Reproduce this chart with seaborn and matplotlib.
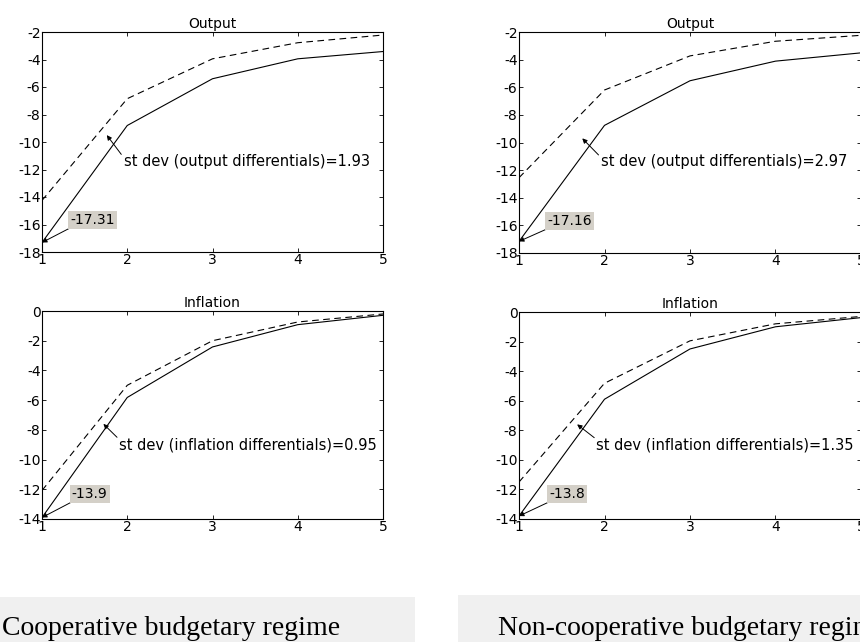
import matplotlib
matplotlib.use("Agg")
import matplotlib.pyplot as plt
import seaborn as sns
import pandas as pd
from matplotlib.patches import Rectangle

periods = [1, 2, 3, 4, 5]

# Cooperative regime
coop_output_solid = [-17.31, -8.8, -5.4, -3.95, -3.42]
coop_output_dashed = [-14.25, -6.85, -3.95, -2.78, -2.22]
coop_infl_solid = [-13.9, -5.82, -2.42, -0.92, -0.29]
coop_infl_dashed = [-12.08, -5.0, -2.0, -0.74, -0.2]

# Non-cooperative regime
nonc_output_solid = [-17.16, -8.76, -5.53, -4.11, -3.51]
nonc_output_dashed = [-12.55, -6.2, -3.73, -2.67, -2.24]
nonc_infl_solid = [-13.8, -5.9, -2.5, -1.0, -0.38]
nonc_infl_dashed = [-11.5, -4.82, -1.95, -0.8, -0.3]

titles = ["Output", "Inflation"]
output_yticks = [-18, -16, -14, -12, -10, -8, -6, -4, -2]
infl_yticks = [-14, -12, -10, -8, -6, -4, -2, 0]
stdev_texts = [
    ["st dev (output differentials)=1.93", "st dev (inflation differentials)=0.95"],
    ["st dev (output differentials)=2.97", "st dev (inflation differentials)=1.35"],
]
value_labels = [["-17.31", "-13.9"], ["-17.16", "-13.8"]]
regime_labels = ["Cooperative budgetary regime", "Non-cooperative budgetary regime"]

sns.set_style("white")
plt.rcParams["font.family"] = ["DejaVu Sans"]
plt.rcParams["axes.unicode_minus"] = False
plt.rcParams["text.color"] = "black"
plt.rcParams["xtick.color"] = "black"
plt.rcParams["ytick.color"] = "black"
plt.rcParams["axes.labelcolor"] = "black"

W, H = 860, 642
fig = plt.figure(figsize=(W / 100, H / 100), dpi=100)

def px_axes(x0, y0, x1, y1):
    return fig.add_axes([x0 / W, 1 - y1 / H, (x1 - x0) / W, (y1 - y0) / H])

axes = [
    [px_axes(42, 32, 383, 252), px_axes(42, 311, 383, 519)],
    [px_axes(519, 32, 861, 253), px_axes(519, 312, 861, 519)],
]

data = [
    [(coop_output_solid, coop_output_dashed), (coop_infl_solid, coop_infl_dashed)],
    [(nonc_output_solid, nonc_output_dashed), (nonc_infl_solid, nonc_infl_dashed)],
]

fs = 10
for c in range(2):
    for r in range(2):
        ax = axes[c][r]
        solid, dashed = data[c][r]
        df = pd.DataFrame({"x": periods, "solid": solid, "dashed": dashed})
        sns.lineplot(data=df, x="x", y="solid", ax=ax, color="black", lw=0.8)
        sns.lineplot(data=df, x="x", y="dashed", ax=ax, color="black", lw=0.8,
                     linestyle=(0, (6, 4)))
        ax.set_xlim(1, 5)
        if r == 0:
            ax.set_ylim(-18, -2)
            ax.set_yticks(output_yticks)
        else:
            ax.set_ylim(-14, 0)
            ax.set_yticks(infl_yticks)
        ax.set_xticks(periods)
        ax.set_xlabel("")
        ax.set_ylabel("")
        ax.set_title(titles[r], fontsize=fs, pad=3, color="black")
        ax.tick_params(direction="in", length=3, width=0.6, labelsize=fs,
                       top=True, right=True, bottom=True, left=True, pad=1,
                       colors="black")
        for s in ax.spines.values():
            s.set_linewidth(0.8)
            s.set_color("black")

        # std-dev annotation
        if r == 0:
            head = (1.76, -9.5) if c == 0 else (1.74, -9.7)
            tail = (1.93, -10.9)
            txt = (1.96, -11.4)
        else:
            head = (1.72, -7.6) if c == 0 else (1.68, -7.6)
            tail = (1.88, -8.5)
            txt = (1.9, -9.0)
        ax.annotate("", xy=head, xytext=tail,
                    arrowprops=dict(arrowstyle="-|>", color="black", lw=0.7,
                                    mutation_scale=7, shrinkA=0, shrinkB=0))
        ax.text(txt[0], txt[1], stdev_texts[c][r], fontsize=fs + 0.5,
                va="center", ha="left", color="black")

        # value label with grey box
        ymin = solid[0]
        if r == 0:
            lab = (1.33, -15.7)
            tail2 = (1.33, -16.25)
        else:
            lab = (1.35, -12.3)
            tail2 = (1.35, -12.85)
        ax.annotate("", xy=(1.0, ymin), xytext=tail2,
                    arrowprops=dict(arrowstyle="-|>", color="black", lw=0.7,
                                    mutation_scale=7, shrinkA=0, shrinkB=0))
        ax.text(lab[0], lab[1], value_labels[c][r], fontsize=fs, va="center",
                ha="left", color="black",
                bbox=dict(boxstyle="square,pad=0.15", fc="#d4d0c8", ec="none"))

# regime labels with light grey boxes
fig.patches.append(Rectangle((0, 0), 415 / W, 45 / H, transform=fig.transFigure,
                             fc="#f0f0f0", ec="none", zorder=0))
fig.patches.append(Rectangle((458 / W, 0), (W - 458) / W, 47 / H,
                             transform=fig.transFigure, fc="#f0f0f0", ec="none",
                             zorder=0))
fig.text(2 / W, 1 - 635 / H, regime_labels[0], fontsize=20, color="black",
         family=["Liberation Serif", "DejaVu Serif"], va="baseline", ha="left")
fig.text(498 / W, 1 - 635 / H, regime_labels[1], fontsize=20, color="black",
         family=["Liberation Serif", "DejaVu Serif"], va="baseline", ha="left")

fig.savefig("out.png", dpi=100)
